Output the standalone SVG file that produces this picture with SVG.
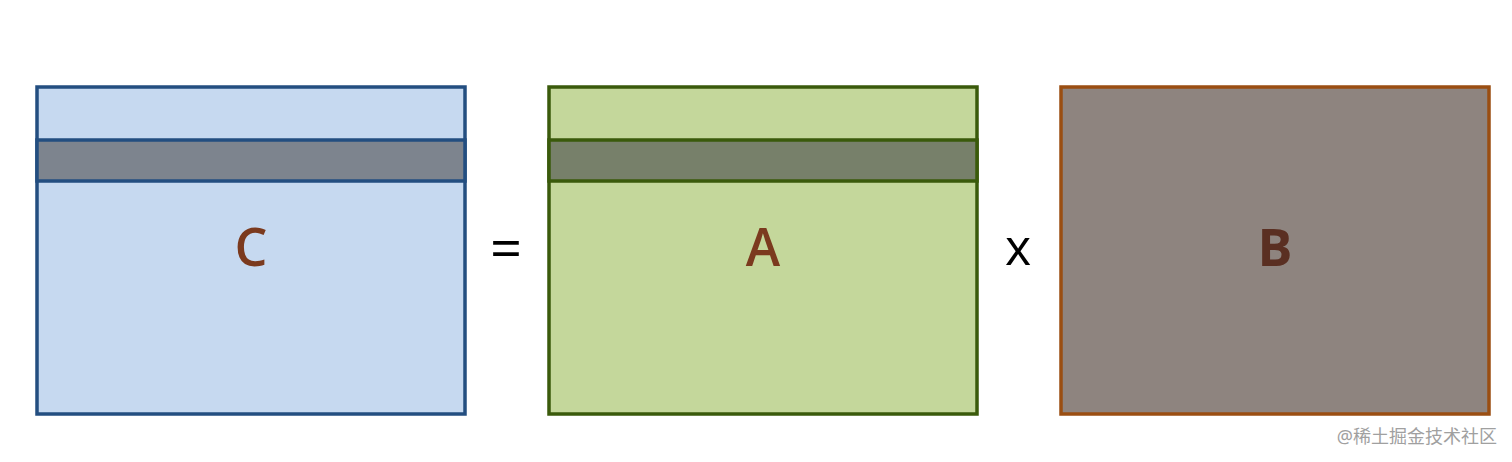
<svg xmlns="http://www.w3.org/2000/svg" width="1512" height="462" viewBox="0 0 1512 462">
<style>
.box{stroke-width:3.5}
.lbl{font-family:"Open Sans","Noto Sans","DejaVu Sans",sans-serif;font-size:52px;text-anchor:middle;font-weight:600}
.op{font-family:"Open Sans","Noto Sans","DejaVu Sans",sans-serif;font-size:50px;text-anchor:middle;fill:#000}
</style>
<rect width="1512" height="462" fill="#ffffff"/>
<g id="C">
<rect class="box" x="37" y="87" width="428" height="327" fill="#c6d9f0" stroke="#234e80"/>
<rect class="box" x="37" y="140" width="428" height="41" fill="#7d848e" stroke="#234e80"/>
<text class="lbl" x="251" y="266" fill="#7b3a1e">C</text>
</g>
<g id="eq">
<text class="op" x="506" y="268" font-size="56" style="font-size:56px">=</text>
</g>
<g id="A">
<rect class="box" x="549" y="87" width="428" height="327" fill="#c4d79b" stroke="#3a5a0b"/>
<rect class="box" x="549" y="140" width="428" height="41" fill="#77806a" stroke="#3a5a0b"/>
<text class="lbl" x="763" y="266" fill="#7b3a1e">A</text>
</g>
<g id="times">
<text class="op" x="1018" y="265">x</text>
</g>
<g id="B">
<rect class="box" x="1061" y="87" width="428" height="327" fill="#8e847f" stroke="#9a4e12"/>
<text class="lbl" x="1275" y="266" fill="#5a2f22" style="font-weight:700">B</text>
</g>
<g id="connectors"/>
<text x="1497" y="443" text-anchor="end" font-family="'Noto Sans','Noto Sans CJK SC',sans-serif" font-size="18" fill="#a0a0a0">@稀土掘金技术社区</text>
</svg>
